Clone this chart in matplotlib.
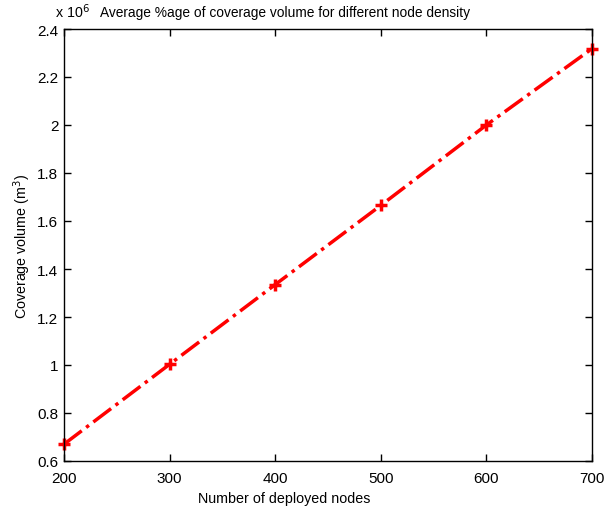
import matplotlib
matplotlib.use("Agg")
import matplotlib.pyplot as plt

nodes = [200, 300, 400, 500, 600, 700]
coverage = [0.670, 1.003, 1.335, 1.665, 2.000, 2.318]  # x 10^6 m^3
xticks = [200, 300, 400, 500, 600, 700]
yticks = [0.6, 0.8, 1.0, 1.2, 1.4, 1.6, 1.8, 2.0, 2.2, 2.4]
yticklabels = ["0.6", "0.8", "1", "1.2", "1.4", "1.6", "1.8", "2", "2.2", "2.4"]

plt.rcParams['font.family'] = ['Liberation Sans', 'DejaVu Sans']
plt.rcParams['font.size'] = 10

fig = plt.figure(figsize=(6.05, 5.10), dpi=100)
ax = fig.add_axes([64/605, 1 - 462/510, (592-64)/605, (462-30)/510])

ax.plot(nodes, coverage, color='red', linestyle='-.', linewidth=2.5,
        marker='+', markersize=8, markeredgewidth=2.5, clip_on=False)

ax.set_xlim(200, 700)
ax.set_ylim(0.6, 2.4)
ax.set_xticks(xticks)
ax.set_yticks(yticks)
ax.set_yticklabels(yticklabels)
ax.tick_params(direction='in', top=True, right=True, length=5, width=1,
               labelsize=11)
ax.tick_params(axis='x', pad=7)
ax.tick_params(axis='y', pad=4)
for s in ax.spines.values():
    s.set_linewidth(1)

ax.set_xlabel("Number of deployed nodes", fontsize=10.3, labelpad=5)
ax.xaxis.set_label_coords(0.417, -0.07)
ax.set_ylabel("Coverage volume (m$^3$)", fontsize=10.3, labelpad=3)
ax.set_title("Average %age of coverage volume for different node density",
             fontsize=9.9, pad=9, x=0.418)
ax.text(-0.017, 1.02, r"x 10$^6$", transform=ax.transAxes, fontsize=10.3,
        ha='left', va='bottom')

fig.savefig("out.png", dpi=100)
